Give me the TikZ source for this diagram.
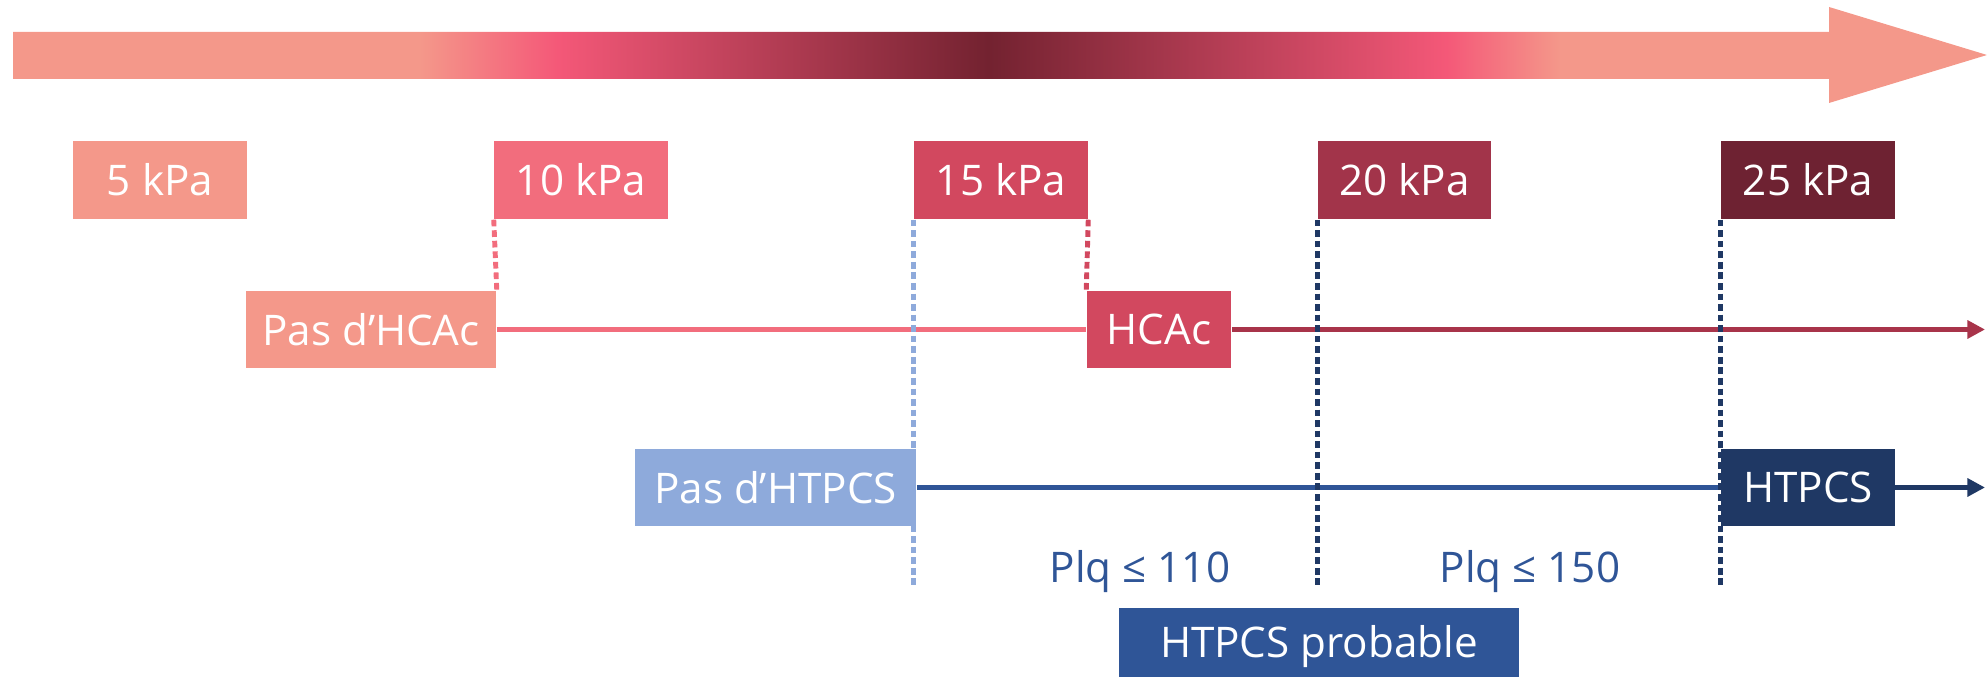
\documentclass[tikz,border=0pt]{standalone}
\usepackage{fontspec}
\setmainfont{Open Sans}
\usetikzlibrary{positioning}
\usetikzlibrary{arrows.meta}
\usetikzlibrary{backgrounds}

\definecolor{kpafive}{HTML}{F4988A}
\definecolor{kpaten}{HTML}{F26D7D}
\definecolor{kpafifteen}{HTML}{D2485F}
\definecolor{kpatwenty}{HTML}{A2344A}
\definecolor{kpatwentyfive}{HTML}{6E2232}
\definecolor{gradpink}{HTML}{F45878}
\definecolor{graddark}{HTML}{732230}
\definecolor{hcacline}{HTML}{A8344A}
\definecolor{htpcslight}{HTML}{8EAADB}
\definecolor{htpcsblue}{HTML}{2F5597}
\definecolor{htpcsnavy}{HTML}{1F3864}

\pgfdeclarehorizontalshading{pressure}{100bp}{color(0bp)=(kpafive); color(35.3bp)=(kpafive); color(38.8bp)=(gradpink); color(49.7bp)=(graddark); color(61.3bp)=(gradpink); color(64.2bp)=(kpafive); color(100bp)=(kpafive)}

\tikzset{
  kpabox/.style={fill=#1, text=white, minimum width=1.73cm, minimum height=0.78cm, inner sep=0pt, font=\fontsize{12}{14}\selectfont},
  statebox/.style={fill=#1, text=white, minimum height=0.77cm, inner sep=0pt, font=\fontsize{12}{14}\selectfont},
  plqtext/.style={text=htpcsblue, inner sep=0pt, font=\fontsize{12}{14}\selectfont},
  track/.style={draw=#1, line width=1.6pt},
  cutline/.style={draw=#1, line width=1.4pt, dash pattern=on 1.9pt off 1.1pt},
}

\begin{document}
\begin{tikzpicture}[x=0.01cm, y=-0.01cm]
  \useasboundingbox (0,0) rectangle (1987,677);

  % pressure arrow
  \shade[shading=pressure] (13,32) -- (1829,32) -- (1829,7) -- (1987,55) -- (1829,103) -- (1829,79) -- (13,79) -- cycle;

  % stiffness values
  \node[kpabox=kpafive] (k5) at (160,180) {5 kPa};
  \node[kpabox=kpaten] (k10) at (581,180) {10 kPa};
  \node[kpabox=kpafifteen] (k15) at (1001,180) {15 kPa};
  \node[kpabox=kpatwenty] (k20) at (1404.5,180) {20 kPa};
  \node[kpabox=kpatwentyfive] (k25) at (1808,180) {25 kPa};

  % HCAc row
  \node[statebox=kpafive, minimum width=2.5cm] (nohcac) at (371,329.5) {Pas d’HCAc};
  \node[statebox=kpafifteen, minimum width=1.44cm] (hcac) at (1159,329.5) {HCAc};
  \coordinate (hcacend) at (1985,329.5);

  % HTPCS row
  \node[statebox=htpcslight, minimum width=2.81cm] (nohtpcs) at (775.5,487.5) {Pas d’HTPCS};
  \node[statebox=htpcsnavy, minimum width=1.73cm] (htpcs) at (1808,487.5) {HTPCS};
  \coordinate (htpcsend) at (1985,487.5);

  % platelets
  \node[plqtext, anchor=base] (plqlow) at (1140,583) {Plq ≤ 110};
  \node[plqtext, anchor=base] (plqhigh) at (1530,583) {Plq ≤ 150};
  \node[statebox=htpcsblue, minimum width=4cm, minimum height=0.78cm] (probable) at (1319,647) {HTPCS probable};
  \coordinate (dotend) at (0,587);

  \begin{scope}[on background layer]
    \draw[track=kpaten] (nohcac.east) -- (hcac.west);
    \draw[track=hcacline, -{Triangle[length=5pt, width=5pt]}] (hcac.east) -- (hcacend);
    \draw[track=htpcsblue] (nohtpcs.east) -- (htpcs.west);
    \draw[track=htpcsnavy, -{Triangle[length=5pt, width=5pt]}] (htpcs.east) -- (htpcsend);

    \draw[cutline=kpaten] (k10.south west) -- (nohcac.north east);
    \draw[cutline=kpafifteen] (k15.south east) -- (hcac.north west);
    \draw[cutline=htpcslight] (k15.south west) -- (k15.south west |- dotend);
    \draw[cutline=htpcsnavy] (k20.south west) -- (k20.south west |- dotend);
    \draw[cutline=htpcsnavy] (k25.south west) -- (k25.south west |- dotend);
  \end{scope}
\end{tikzpicture}
\end{document}
